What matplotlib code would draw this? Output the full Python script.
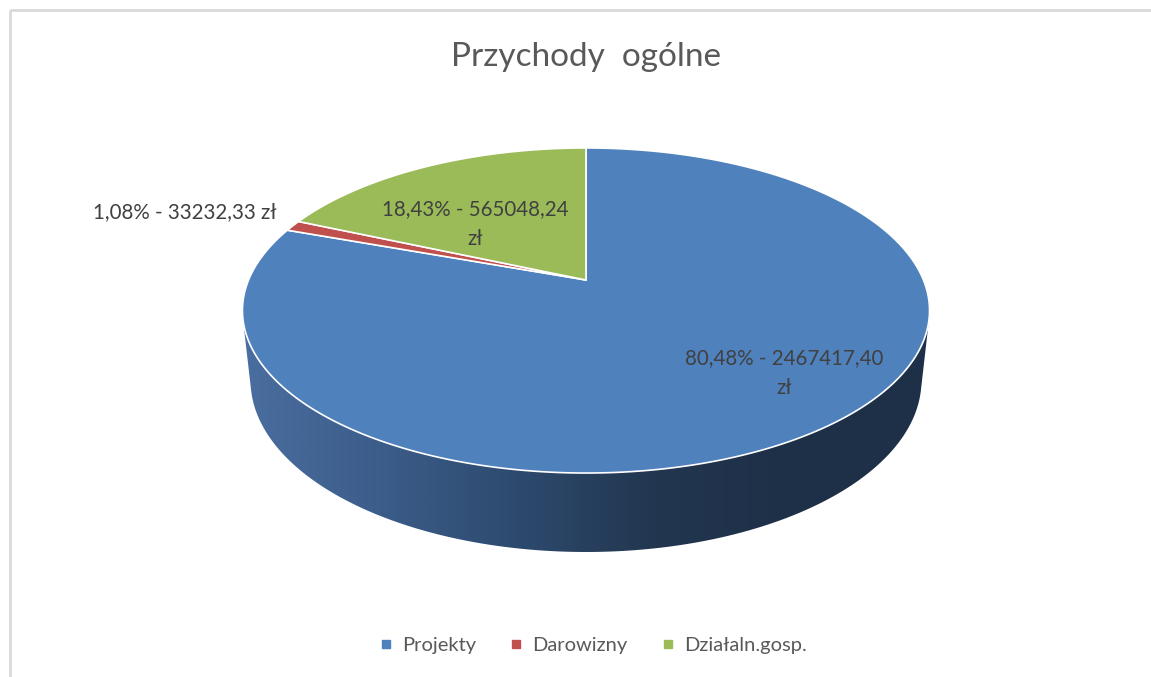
import numpy as np
import matplotlib
matplotlib.use("Agg")
import matplotlib.pyplot as plt
from matplotlib.patches import Polygon, Rectangle
from matplotlib.lines import Line2D
from matplotlib.colors import LinearSegmentedColormap

# data
categories = ["Projekty", "Darowizny", "Działaln.gosp."]
values = [2467417.40, 33232.33, 565048.24]
percents = ["80,48%", "1,08%", "18,43%"]
amounts = ["2467417,40", "33232,33", "565048,24"]
colors = ["#4f81bd", "#c0504d", "#9bbb59"]
title = "Przychody  ogólne"

plt.rcParams['font.family'] = ['Lato', 'DejaVu Sans']

W, H = 1151, 677
fig = plt.figure(figsize=(W / 100, H / 100), dpi=100)
ax = fig.add_axes([0, 0, 1, 1])
ax.set_xlim(0, W)
ax.set_ylim(H, 0)
ax.axis('off')

# simple perspective camera for the 3D pie
cx, cy = 586, 280
F, D = 1592.0, 4.718
sinA, cosA = 0.4647, 0.8855
h = 0.2358


def proj(t, r=1.0, z=0.0):
    # t: clockwise angle from the far (top) point, in degrees
    t = np.radians(t)
    u = r * np.sin(t)
    v = -r * np.cos(t)
    depth = D - v * cosA - z * sinA
    x = cx + F * u / depth
    y = cy + F * (v * sinA - z * cosA) / depth
    return x, y


# side wall (only the front part is visible)
vs = 1.0 / (D * cosA)
t1 = np.degrees(np.arccos(-vs))
t2 = 360 - t1
ts = np.linspace(t1, t2, 300)
xt, yt = proj(ts)
xb, yb = proj(ts[::-1], z=-h)
side = np.column_stack([np.r_[xt, xb], np.r_[yt, yb]])
side_poly = Polygon(side, closed=True, facecolor='none', edgecolor='none')
ax.add_patch(side_poly)

side_cmap = LinearSegmentedColormap.from_list(
    "side", ["#4a6ea0", "#3c5d8a", "#2d4a6e", "#22364f", "#1e3048", "#1e3048"])
grad = np.linspace(0, 1, 512).reshape(1, -1)
im = ax.imshow(grad, cmap=side_cmap, aspect='auto',
               extent=[xt.min() - 2, xt.max() + 2, yb.max() + 2, yt.min() - 2],
               zorder=1)
im.set_clip_path(side_poly)

# top face wedges
total = sum(values)
start = 0.0
for val, col in zip(values, colors):
    span = 360.0 * val / total
    tt = np.linspace(start, start + span, max(int(span * 3), 4))
    x, y = proj(tt)
    pts = np.column_stack([np.r_[cx, x], np.r_[cy, y]])
    ax.add_patch(Polygon(pts, closed=True, facecolor=col, edgecolor='white',
                         linewidth=1.2, zorder=2))
    start += span

# data labels
lab_col = "#404040"
ax.text(784, 373, percents[0] + " - " + amounts[0] + "\nzł", ha='center', va='center',
        fontsize=14.8, color=lab_col, linespacing=1.6, zorder=3)
ax.text(185, 212, percents[1] + " - " + amounts[1] + " zł", ha='center', va='center',
        fontsize=14.8, color=lab_col, zorder=3)
ax.text(475, 224, percents[2] + " - " + amounts[2] + "\nzł", ha='center', va='center',
        fontsize=14.8, color=lab_col, linespacing=1.6, zorder=3)

# title
ax.text(586, 57, title, ha='center', va='center', fontsize=24, color='#595959')

# chart border (top and left edges visible)
ax.add_patch(Rectangle((10, 10), 1300, 800, facecolor='none',
                       edgecolor='#d9d9d9', linewidth=2, zorder=0))

# legend
handles = [Line2D([], [], marker='s', linestyle='none', markersize=5.5,
                  markerfacecolor=c, markeredgecolor=c) for c in colors]
fig.legend(handles, categories, loc='center', bbox_to_anchor=(593 / W, 1 - 645 / H),
           ncol=3, frameon=False, fontsize=14.5, handlelength=0.6, handletextpad=0.5,
           columnspacing=1.7, labelcolor='#595959')

fig.savefig("out.png", dpi=100)
